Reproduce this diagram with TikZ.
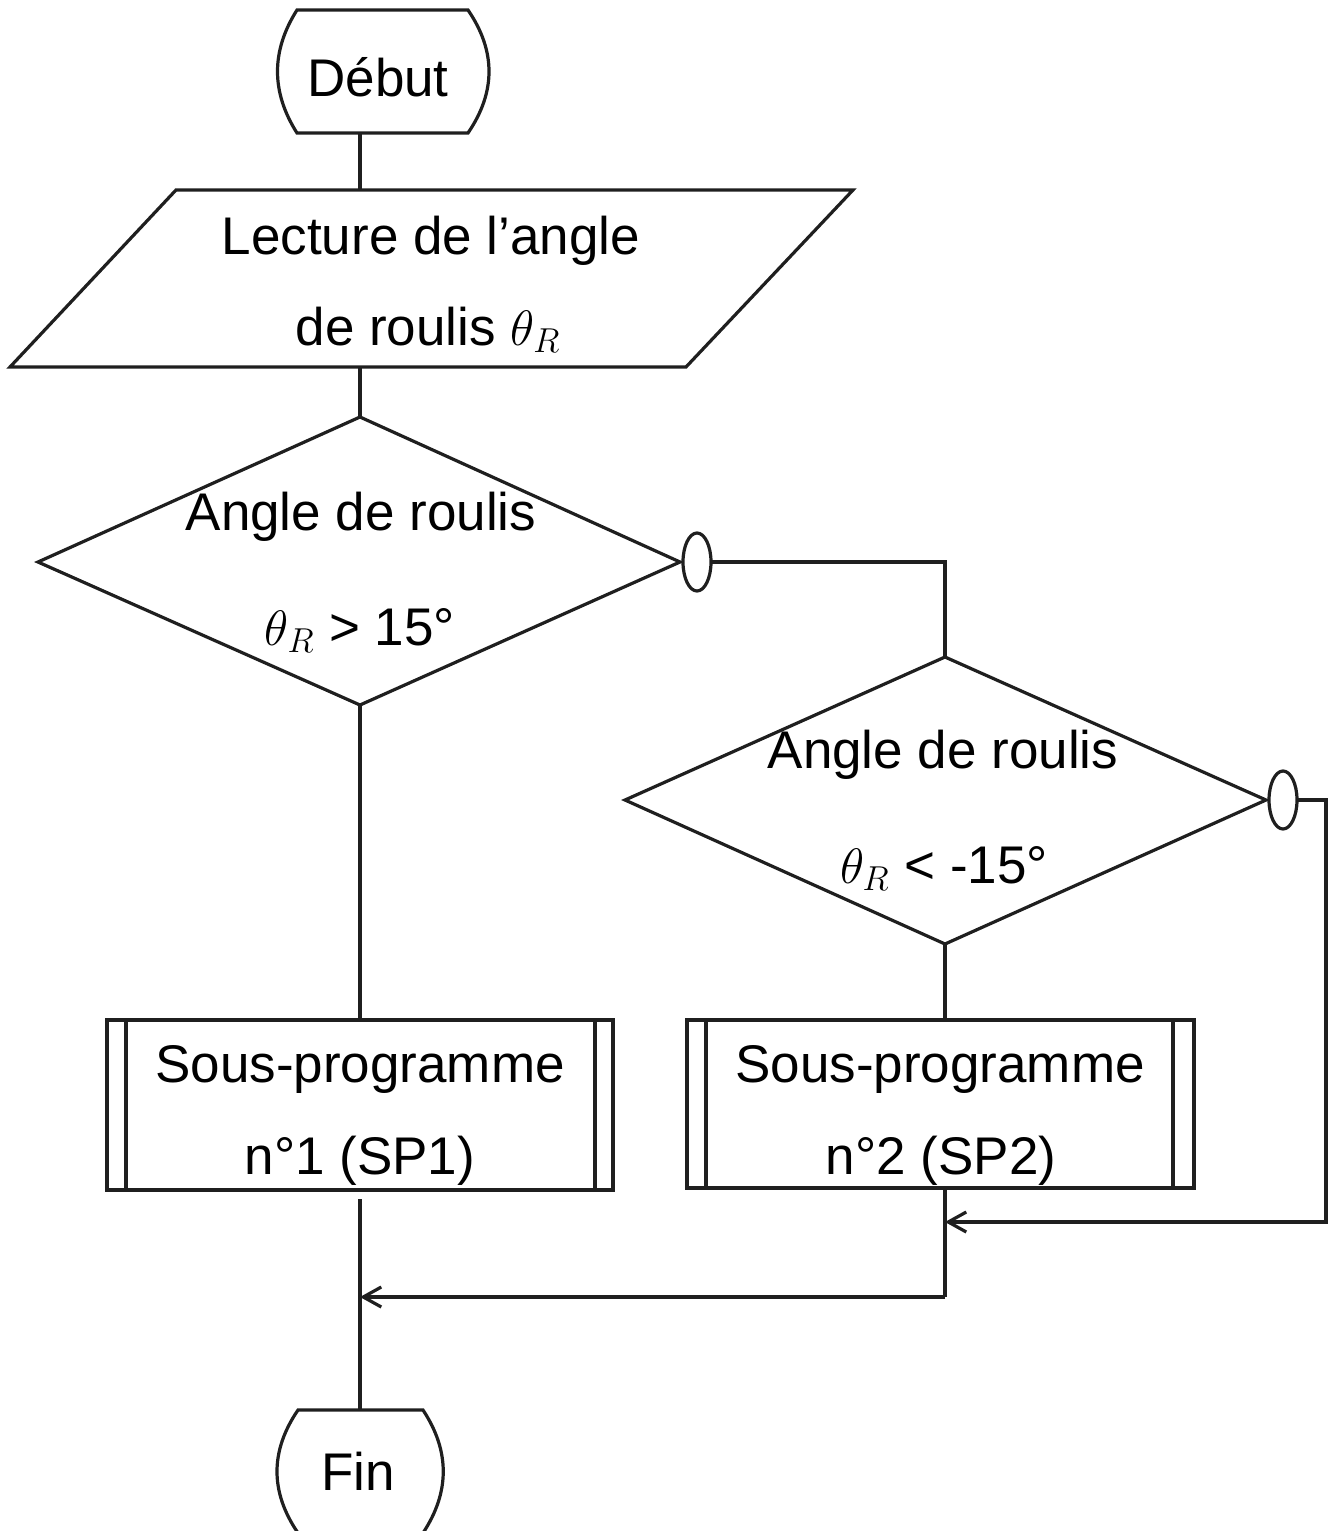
\documentclass[tikz,border=0pt]{standalone}
\usepackage{fontspec}
\setmainfont{Liberation Sans}
\usetikzlibrary{arrows.meta}
\begin{document}
\begin{tikzpicture}[x=0.5pt,y=-0.5pt,
  line/.style={line width=1.6pt, draw=black!88},
  txt/.style={anchor=base, inner sep=0pt, font=\fontsize{26.5}{32}\selectfont},
  arr/.style={line, -{Straight Barb[length=9pt,width=10pt,line width=1.6pt]}}]
\useasboundingbox (0,0) rectangle (1328,1531);
\clip (0,0) rectangle (1328,1531);

% ---------- key points ----------
\coordinate (debutS) at (360,133);
\coordinate (lectN) at (360,190);
\coordinate (lectS) at (360,367);
\coordinate (d1N) at (360,417);
\coordinate (d1E) at (680,562);
\coordinate (d1S) at (360,705);
\coordinate (d1W) at (38,562);
\coordinate (c1E) at (711,562);
\coordinate (c1K) at (945,562);
\coordinate (d2N) at (945,657);
\coordinate (d2E) at (1266,800);
\coordinate (d2S) at (945,944);
\coordinate (d2W) at (625,800);
\coordinate (c2E) at (1297,800);
\coordinate (c2K) at (1326,800);
\coordinate (c2K2) at (1326,1222);
\coordinate (j2) at (945,1222);
\coordinate (sp1N) at (360,1020);
\coordinate (sp1S) at (360,1199);
\coordinate (sp2N) at (945,1020);
\coordinate (sp2S) at (945,1188);
\coordinate (m2) at (945,1297);
\coordinate (j1) at (360,1297);
\coordinate (finN) at (360,1410);

% ---------- Début ----------
\draw[line] (297,10) -- (468,10) .. controls (496,51) and (496,92) .. (468,133)
  -- (297,133) .. controls (271,92) and (271,51) .. (297,10) -- cycle;
\node[txt] (debut) at (378,96) {Début};

% ---------- Lecture ----------
\draw[line] (176,190) -- (853,190) -- (686,367) -- (10,367) -- cycle;
\node[txt] (lect1) at (431,254) {Lecture de l’angle};
\node[txt] (lect2) at (428,345) {de roulis $\theta_R$};

% ---------- Diamond 1 ----------
\draw[line] (d1N) -- (d1E) -- (d1S) -- (d1W) -- cycle;
\node[txt] (d1a) at (361,530) {Angle de roulis};
\node[txt] (d1b) at (360,645) {$\theta_R$ > 15°};
\draw[line] (697,562) ellipse [x radius=14, y radius=29];
\node[inner sep=0pt, minimum size=0pt] (c1) at (697,562) {};

% ---------- Diamond 2 ----------
\draw[line] (d2N) -- (d2E) -- (d2S) -- (d2W) -- cycle;
\node[txt] (d2a) at (943,768) {Angle de roulis};
\node[txt] (d2b) at (944,883) {$\theta_R$ < -15°};
\draw[line] (1283,800) ellipse [x radius=14, y radius=29];
\node[inner sep=0pt, minimum size=0pt] (c2) at (1283,800) {};

% ---------- Sub-programs ----------
\draw[line] (107,1020) rectangle (613,1190);
\draw[line] (126,1020) -- (126,1190);
\draw[line] (595,1020) -- (595,1190);
\node[txt] (sp1a) at (360,1082) {Sous-programme};
\node[txt] (sp1b) at (360,1174) {n°1 (SP1)};

\draw[line] (687,1020) rectangle (1194,1188);
\draw[line] (706,1020) -- (706,1188);
\draw[line] (1173,1020) -- (1173,1188);
\node[txt] (sp2a) at (940,1082) {Sous-programme};
\node[txt] (sp2b) at (941,1174) {n°2 (SP2)};

% ---------- Fin ----------
\draw[line] (298,1410) -- (423,1410) .. controls (450,1451) and (450,1492) .. (423,1533)
  -- (298,1533) .. controls (270,1492) and (270,1451) .. (298,1410) -- cycle;
\node[txt] (fin) at (358,1490) {Fin};

% ---------- connectors ----------
\draw[line] (debutS) -- (lectN);
\draw[line] (lectS) -- (d1N);
\draw[line] (c1E) -- (c1K) -- (d2N);
\draw[line] (d1S) -- (sp1N);
\draw[line] (d2S) -- (sp2N);
\draw[arr] (c2E) -- (c2K) -- (c2K2) -- (j2);
\draw[line] (sp2S) -- (m2);
\draw[arr] (m2) -- (j1);
\draw[line] (sp1S) -- (finN);
\end{tikzpicture}
\end{document}
